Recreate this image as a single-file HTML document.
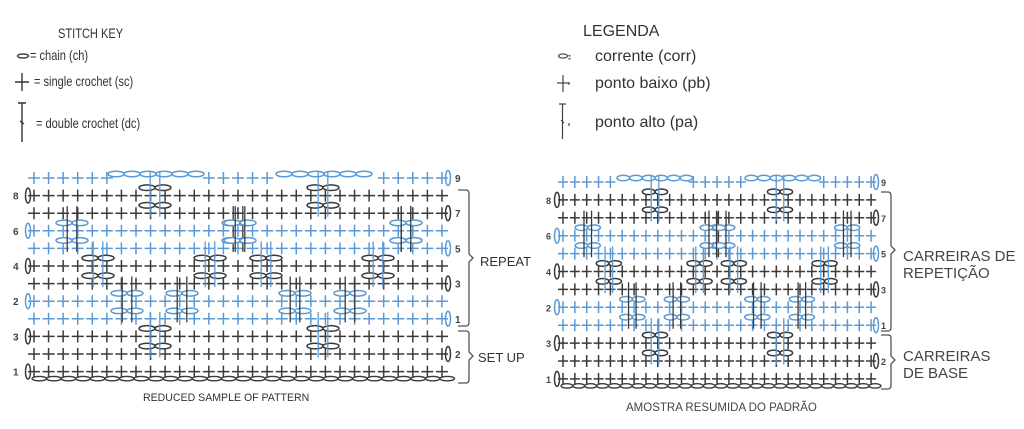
<!DOCTYPE html>
<html><head><meta charset="utf-8"><style>
html,body{margin:0;padding:0;background:#fff;width:1024px;height:429px;overflow:hidden}
svg{display:block}
.t{font-family:"Liberation Sans",sans-serif;fill:#333}
</style></head><body>
<svg id="s" width="1024" height="429" viewBox="0 0 1024 429" xmlns="http://www.w3.org/2000/svg">
<g class="t" font-size="13.5" fill="#2a2a2a">
<text x="58" y="38" transform="translate(58 0) scale(0.82 1) translate(-58 0)">STITCH KEY</text>
<text x="30" y="60" transform="translate(30 0) scale(0.82 1) translate(-30 0)">= chain (ch)</text>
<text x="34" y="86" transform="translate(34 0) scale(0.82 1) translate(-34 0)">= single crochet (sc)</text>
<text x="36" y="128" transform="translate(36 0) scale(0.82 1) translate(-36 0)">= double crochet (dc)</text>
</g>
<ellipse cx="23" cy="56" rx="5.5" ry="2" fill="none" stroke="#444" stroke-width="1.4"/>
<path d="M15 82H29M22 73V91" stroke="#333" stroke-width="1.4"/>
<path d="M18 103H26M22 103V142M20 121L24 124" stroke="#333" stroke-width="1.4" fill="none"/>
<g class="t" font-size="16" fill="#444">
<text x="583" y="36" font-size="16">LEGENDA</text>
<text x="595" y="61">corrente (corr)</text>
<text x="595" y="88">ponto baixo (pb)</text>
<text x="595" y="127">ponto alto (pa)</text>
</g>
<ellipse cx="563" cy="56" rx="4.5" ry="2" fill="none" stroke="#555" stroke-width="1.3"/>
<path d="M569 55v1.5M569 58v1.5M570 55v1.5M570 58v1.5" stroke="#555"/>
<path d="M557 83H569M563 75V92M569 82v3" stroke="#444" stroke-width="1.2"/>
<path d="M559 104H566M562.5 104V139M561 120L564 123M569 123v3" stroke="#444" stroke-width="1.2" fill="none"/>
<g id="charts"></g>
<g class="t" font-size="11.5">
<text x="143" y="401" transform="translate(143 0) scale(0.92 1) translate(-143 0)">REDUCED SAMPLE OF PATTERN</text>
<text x="480" y="266" font-size="13">REPEAT</text>
<text x="478" y="362" font-size="13">SET UP</text>
<text x="626" y="411" font-size="11.5" fill="#444">AMOSTRA RESUMIDA DO PADRÃO</text>
<text x="903" y="261" font-size="15" fill="#444">CARREIRAS DE</text>
<text x="903" y="278" font-size="15" fill="#444">REPETIÇÃO</text>
<text x="903" y="361" font-size="15" fill="#444">CARREIRAS</text>
<text x="903" y="378" font-size="15" fill="#444">DE BASE</text>
</g>
<path d="M458 190H466Q469 190 469 194V254L473 258L469 262V322Q469 326 466 326H458M458 331H466Q469 331 469 334V352L473 356L469 360V379Q469 383 466 383H458" fill="none" stroke="#555" stroke-width="1.3"/>
<path d="M881 192H888Q891 192 891 196V246L895 250L891 254V327Q891 331 888 331H881M881 335H888Q891 335 891 338V356L895 360L891 364V385Q891 389 888 389H881" fill="none" stroke="#555" stroke-width="1.3"/>
</svg>
<script>
var NS="http://www.w3.org/2000/svg",G=document.getElementById("charts");
function el(n,a){var e=document.createElementNS(NS,n);for(var k in a)e.setAttribute(k,a[k]);G.appendChild(e);return e;}
var B="#5b9ad4",K="#3a3a3a";
function chart(o){
 var blue=[0,3,4,7,8],i,j;
 for(i=0;i<12;i++){
  var y=o.y0+o.dy*i,c=blue.indexOf(i)>=0?B:K;
  for(j=0;j<o.n;j++){
   var x=o.x0+o.dx*j;
   if(i==0){var skip=false;o.gaps.forEach(function(g){if(x>g[0]&&x<g[1])skip=true;});if(skip)continue;}
   el("path",{d:"M"+(x-o.h)+" "+y+"H"+(x+o.h)+"M"+x+" "+(y-o.v)+"V"+(y+o.v),stroke:c,"stroke-width":1.5});
  }
 }
 o.gaps.forEach(function(g){for(var x=g[0]+o.ew;x<g[1];x+=o.ew*2)el("ellipse",{cx:x,cy:o.y0-4,rx:o.ew,ry:2.8,fill:"none",stroke:B,"stroke-width":1.5});});
 var yb=o.y0+o.dy*11+o.v+1;
 for(var x=o.x0-2;x<o.x0+o.dx*(o.n-1);x+=o.dx)el("ellipse",{cx:x+o.dx/2,cy:yb,rx:o.dx/2,ry:2.2,fill:"none",stroke:K,"stroke-width":1.4});
 o.pairs.forEach(function(p){
  var cx=p[0],r=p[1],col=p[2];
  var ya=o.y0+o.dy*(r-0.4),yz=o.y0+o.dy*(r+2.2);
  [r,r+1].forEach(function(rr){var yy=o.y0+o.dy*(rr+0.55);
   el("ellipse",{cx:cx-o.ew,cy:yy,rx:o.ew,ry:2.8,fill:"#fff",stroke:col,"stroke-width":1.5});
   el("ellipse",{cx:cx+o.ew,cy:yy,rx:o.ew,ry:2.8,fill:"#fff",stroke:col,"stroke-width":1.5});});
  [cx-o.ew*0.6,cx+o.ew*0.6].forEach(function(xx){el("path",{d:"M"+xx+" "+ya+"V"+yz,stroke:col==B?K:B,"stroke-width":1.3});});
 });
 o.lab.forEach(function(l){var yy=o.y0+o.dy*l[0],c=blue.indexOf(l[0])>=0?B:K;
  el("ellipse",{cx:l[2],cy:yy,rx:2.5,ry:o.v+1.5,fill:"none",stroke:c,"stroke-width":1.5});
  var t=el("text",{x:l[3],y:yy+4,"font-family":"Liberation Sans,sans-serif","font-size":o.fs,"font-weight":"bold",fill:"#444"});t.textContent=l[1];});
}
function pairsFor(Cs,s){var a=[];Cs.forEach(function(C){
 a.push([C,0,K]);a.push([C-83*s,2,B]);a.push([C-57*s,4,K]);a.push([C-28*s,6,B]);a.push([C,8,K]);
 a.push([C+27*s,6,B]);a.push([C+55*s,4,K]);a.push([C+83*s,2,B]);});return a;}
chart({x0:34,dx:14.57,n:29,y0:178,dy:17.6,h:6,v:6,ew:8,fs:10,gaps:[[108,203],[276,370]],
 pairs:pairsFor([155,323],1).filter(function(p){return p[0]>40&&p[0]<440;}).concat([[406,2,B]]),
 lab:[[1,"8",28,13],[3,"6",28,13],[5,"4",28,13],[7,"2",28,13],[9,"3",28,13],[11,"1",28,13],
      [0,"9",448,455],[2,"7",448,455],[4,"5",448,455],[6,"3",448,455],[8,"1",448,455],[10,"2",448,455]]});
chart({x0:563,dx:11.85,n:27,y0:182,dy:17.9,h:5,v:6,ew:6.3,fs:9,gaps:[[617,690],[745,815]],
 pairs:pairsFor([655,780],0.81).filter(function(p){return p[0]>568&&p[0]<868;}),
 lab:[[1,"8",557,546],[3,"6",557,546],[5,"4",557,546],[7,"2",557,546],[9,"3",557,546],[11,"1",557,546],
      [0,"9",876,881],[2,"7",876,881],[4,"5",876,881],[6,"3",876,881],[8,"1",876,881],[10,"2",876,881]]});
</script>
</body></html>
